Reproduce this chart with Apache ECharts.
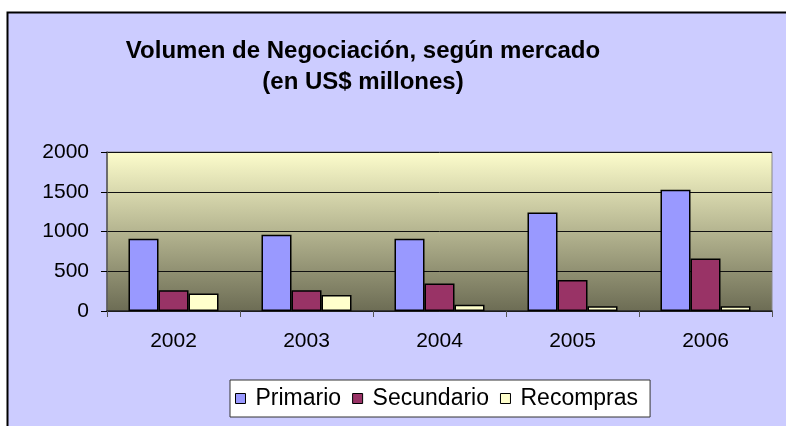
<!DOCTYPE html>
<html>
<head>
<meta charset="utf-8">
<script src="https://cdn.jsdelivr.net/npm/echarts@6/dist/echarts.min.js"></script>
<style>
  html, body { margin: 0; padding: 0; background: #fff; }
  #chart { width: 786px; height: 426px; }
</style>
</head>
<body>
<div id="chart"></div>
<script>
const years = ["2002", "2003", "2004", "2005", "2006"];
const primario = [910, 960, 910, 1240, 1525];
const secundario = [260, 260, 345, 390, 660];
const recompras = [220, 200, 80, 60, 60];
const yTicks = { min: 0, max: 2000, interval: 500 };

const chart = echarts.init(document.getElementById("chart"));
const FONT = "Liberation Sans, Arial, sans-serif";

const barStyle = (color) => ({
  color: color,
  borderColor: "#000",
  borderWidth: 1.5,
});

const option = {
  animation: false,
  backgroundColor: "#fff",
  textStyle: { fontFamily: FONT },
  graphic: [
    {
      // marco exterior del grafico
      type: "rect",
      z: -10,
      shape: { x: 7.5, y: 12.5, width: 790, height: 420 },
      style: { fill: "#ccccff", stroke: "#000", lineWidth: 2 },
    },
  ],
  title: {
    text: "Volumen de Negociación, según mercado\n(en US$ millones)",
    left: 358,
    textAlign: "center",
    top: 31,
    textStyle: {
      fontSize: 24,
      fontWeight: "bold",
      color: "#000",
      lineHeight: 31,
      fontFamily: FONT,
    },
  },
  legend: {
    left: 230,
    top: 380,
    padding: [7, 12, 7, 5],
    itemGap: 11,
    itemWidth: 10,
    itemHeight: 10,
    backgroundColor: "#fff",
    borderColor: "#333",
    borderWidth: 1,
    icon: "rect",
    itemStyle: { borderColor: "#000", borderWidth: 1 },
    textStyle: { fontSize: 23, color: "#000", padding: [0, 0, 0, 5] },
    data: ["Primario", "Secundario", "Recompras"],
  },
  grid: {
    left: 107,
    right: 14,
    top: 152,
    bottom: 115,
    show: true,
    borderColor: "#888",
    borderWidth: 1,
    backgroundColor: {
      type: "linear",
      x: 0, y: 0, x2: 0, y2: 1,
      colorStops: [
        { offset: 0, color: "#fdfdcc" },
        { offset: 1, color: "#6c6c54" },
      ],
    },
  },
  xAxis: {
    type: "category",
    data: years,
    axisLine: { lineStyle: { color: "#222", width: 1.5 } },
    axisTick: { show: true, length: 6, lineStyle: { color: "#555" } },
    axisLabel: { fontSize: 21, color: "#000", margin: 20 },
  },
  yAxis: {
    type: "value",
    min: yTicks.min,
    max: yTicks.max,
    interval: yTicks.interval,
    axisLine: { show: true, lineStyle: { color: "#555", width: 1.5 } },
    axisTick: { show: true, length: 6, lineStyle: { color: "#000" } },
    axisLabel: {
      fontSize: 21,
      color: "#000",
      margin: 18,
      formatter: (v) => String(v),
    },
    splitLine: { lineStyle: { color: "#111", width: 1 } },
  },
  series: [
    {
      name: "Primario",
      type: "bar",
      data: primario,
      barWidth: 30,
      barGap: "0%",
      itemStyle: barStyle("#9999ff"),
    },
    {
      name: "Secundario",
      type: "bar",
      data: secundario,
      barWidth: 30,
      barGap: "0%",
      itemStyle: barStyle("#993366"),
    },
    {
      name: "Recompras",
      type: "bar",
      data: recompras,
      barWidth: 30,
      barGap: "0%",
      itemStyle: barStyle("#ffffcc"),
    },
  ],
};

chart.setOption(option);
</script>
</body>
</html>
